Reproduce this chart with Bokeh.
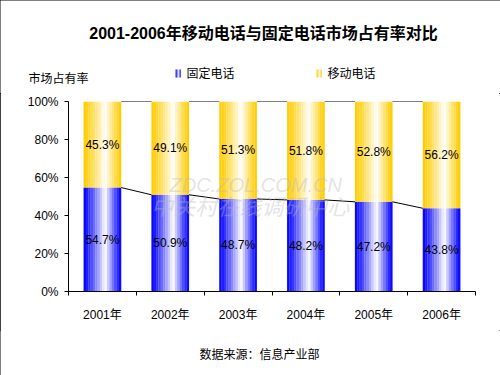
from bokeh.plotting import figure
from bokeh.layouts import column
from bokeh.models import ColumnDataSource, Range1d, FixedTicker, NumeralTickFormatter, Label
from bokeh.transform import dodge
from bokeh.core.properties import value
from bokeh.embed import file_html
from bokeh.resources import INLINE

# ---- data ----
years = ["2001年", "2002年", "2003年", "2004年", "2005年", "2006年"]
fixed = [0.547, 0.509, 0.487, 0.482, 0.472, 0.438]
mobile = [0.453, 0.491, 0.513, 0.518, 0.528, 0.562]
fixed_labels = ["54.7%", "50.9%", "48.7%", "48.2%", "47.2%", "43.8%"]
mobile_labels = ["45.3%", "49.1%", "51.3%", "51.8%", "52.8%", "56.2%"]
series_names = ["固定电话", "移动电话"]
title_text = "2001-2006年移动电话与固定电话市场占有率对比"
yaxis_title = "市场占有率"
source_text = "数据来源：信息产业部"

FONT = "'Liberation Sans', 'Noto Sans CJK SC'"
BLUE = (0, 0, 255)
GOLD = (255, 204, 0)
BAR_W = 0.553
N = 16

def mix(c, t):
    return "#%02x%02x%02x" % tuple(int(round(ch + (255 - ch) * t)) for ch in c)

def grad(c, f):
    peak = 0.58
    if f < peak:
        t = f / peak
    else:
        t = 1 - (f - peak) / (1 - peak)
    return mix(c, t ** 1.2)

def blank_fig(h):
    f = figure(width=500, height=h, output_backend="svg", toolbar_location=None,
               x_range=Range1d(0, 500), y_range=Range1d(h, 0),
               x_axis_type=None, y_axis_type=None, frame_align=False,
               min_border_left=0, min_border_right=0, min_border_top=0, min_border_bottom=0)
    f.outline_line_color = None
    f.grid.visible = False
    f.background_fill_color = "white"
    f.border_fill_color = "white"
    return f

def lab(f, x, y, text, align="left", size="12px", style="normal"):
    f.add_layout(Label(x=x, y=y, text=text, text_align=align, text_baseline="middle",
                       text_font=FONT, text_font_size=size, text_font_style=style,
                       text_color="black"))

# ---- header: title, y-axis title, legend ----
top = blank_fig(93)
lab(top, 263, 33, title_text, align="center", size="16px", style="bold")
lab(top, 28, 78, yaxis_title)
for c, lx, tx, name in zip([BLUE, GOLD], [175, 316], [186, 327], series_names):
    m = 4
    lefts = [lx + k * 1.3 for k in range(m)]
    rights = [l + 1.5 for l in lefts]
    cols = [grad(c, (k + 0.5) / m) for k in range(m)]
    top.quad(left=lefts, right=rights, top=[69] * m, bottom=[77] * m,
             fill_color=cols, line_color=None)
    lab(top, tx, 73, name)

# ---- main chart ----
xs = [i + 0.5 for i in range(len(years))]
tops = [a + b for a, b in zip(fixed, mobile)]
src = ColumnDataSource(dict(x=xs, fixed=fixed, mobile=mobile, top=tops,
                            zero=[0] * len(xs),
                            fmid=[v / 2 for v in fixed],
                            mmid=[f + m / 2 for f, m in zip(fixed, mobile)],
                            flab=fixed_labels, mlab=mobile_labels))

p = figure(width=500, height=237, output_backend="svg", toolbar_location=None,
           x_range=Range1d(0, 6), y_range=Range1d(0, 1), frame_align=False,
           min_border_left=68, min_border_right=25, min_border_top=8, min_border_bottom=39)
p.outline_line_color = None
p.grid.visible = False
p.background_fill_color = "white"
p.border_fill_color = "white"

sw = BAR_W / N
for k in range(N):
    off = -BAR_W / 2 + (k + 0.5) * sw
    f = (k + 0.5) / N
    p.vbar(x=dodge("x", off), width=sw * 1.08, bottom="zero", top="fixed", source=src,
           fill_color=grad(BLUE, f), line_color=None)
    p.vbar(x=dodge("x", off), width=sw * 1.08, bottom="fixed", top="top", source=src,
           fill_color=grad(GOLD, f), line_color=None)

x0 = [x + BAR_W / 2 for x in xs[:-1]]
x1 = [x - BAR_W / 2 for x in xs[1:]]
p.segment(x0=x0, y0=fixed[:-1], x1=x1, y1=fixed[1:], line_color="black", line_width=1)
p.segment(x0=x0, y0=tops[:-1], x1=x1, y1=tops[1:], line_color="black", line_width=1)

p.text(x="x", y="fmid", text="flab", source=src, text_align="center", text_baseline="middle",
       text_font=value(FONT), text_font_size="12px", text_color="black")
p.text(x="x", y="mmid", text="mlab", source=src, text_align="center", text_baseline="middle",
       text_font=value(FONT), text_font_size="12px", text_color="black")

p.add_layout(Label(x=2.76, y=0.558, text="ZDC.ZOL.COM.CN", text_align="center", text_baseline="middle",
                   text_font=FONT, text_font_size="20px", text_font_style="italic",
                   text_color="#b8b8b8", text_alpha=0.4))
p.add_layout(Label(x=2.68, y=0.442, text="中关村在线调研中心", text_align="center", text_baseline="middle",
                   text_font=FONT, text_font_size="22px", text_font_style="italic",
                   text_color="#b8b8b8", text_alpha=0.4))

p.yaxis.ticker = FixedTicker(ticks=[0, 0.2, 0.4, 0.6, 0.8, 1.0])
p.yaxis.formatter = NumeralTickFormatter(format="0%")
p.yaxis.major_tick_in = 0
p.yaxis.major_tick_out = 4
p.yaxis.minor_tick_out = 0
p.yaxis.major_label_standoff = 6
p.xaxis.ticker = FixedTicker(ticks=xs, minor_ticks=list(range(len(years) + 1)))
p.xaxis.major_label_overrides = {x: y for x, y in zip(xs, years)}
p.xaxis.major_tick_in = 0
p.xaxis.major_tick_out = 0
p.xaxis.minor_tick_in = 0
p.xaxis.minor_tick_out = 4
p.xaxis.major_label_standoff = 12
for ax in (p.xaxis, p.yaxis):
    ax.axis_line_color = "black"
    ax.major_tick_line_color = "black"
    ax.minor_tick_line_color = "black"
    ax.major_label_text_font = FONT
    ax.major_label_text_font_size = "12px"
    ax.major_label_text_color = "black"

# ---- footer: source ----
bot = blank_fig(45)
lab(bot, 259, 24, source_text, align="center")

layout = column(top, p, bot, spacing=0)
layout.styles = {"outline": "1px solid black", "outline-offset": "-1px"}

open("out.html", "w").write(file_html(layout, INLINE))
